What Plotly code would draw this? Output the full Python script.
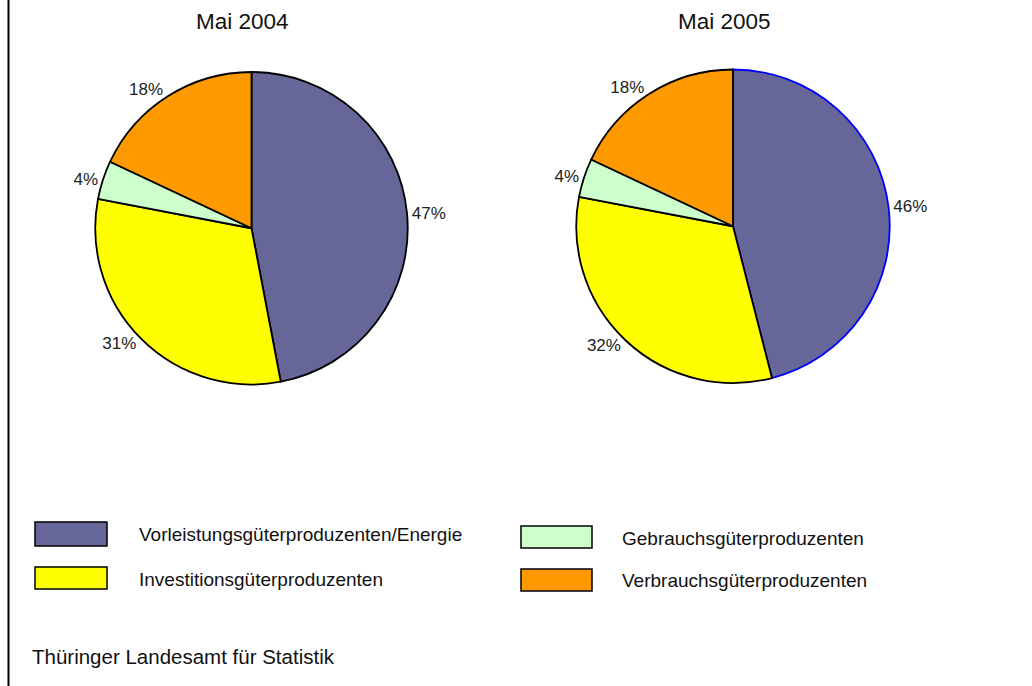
import plotly.graph_objects as go

# ---- data ----
categories = [
    "Vorleistungsgüterproduzenten/Energie",
    "Investitionsgüterproduzenten",
    "Gebrauchsgüterproduzenten",
    "Verbrauchsgüterproduzenten",
]
values_2004 = [47, 31, 4, 18]
values_2005 = [46, 32, 4, 18]
titles = ["Mai 2004", "Mai 2005"]
colors = ["#666699", "#FFFF00", "#CCFFCC", "#FF9900"]
source_text = "Thüringer Landesamt für Statistik"

W, H = 1032, 686
FONT = "Liberation Sans, Arial, sans-serif"


def px(x):
    return x / W


def py(y):
    return 1 - y / H


fig = go.Figure()

fig.add_trace(go.Pie(
    labels=categories, values=values_2004, sort=False, direction="clockwise",
    rotation=0, domain=dict(x=[px(95), px(408)], y=[py(384.5), py(72)]),
    marker=dict(colors=colors, line=dict(color="black", width=1.8)),
    texttemplate="%{value}%", textposition="outside",
    outsidetextfont=dict(family=FONT, size=17, color="#222222"),
    showlegend=False, hoverinfo="label+percent",
))

fig.add_trace(go.Pie(
    labels=categories, values=values_2005, sort=False, direction="clockwise",
    rotation=0, domain=dict(x=[px(576), px(890)], y=[py(383), py(69.5)]),
    marker=dict(colors=colors,
                line=dict(color=["#0000FF", "black", "black", "black"], width=1.8)),
    texttemplate="%{value}%", textposition="outside",
    outsidetextfont=dict(family=FONT, size=17, color="#222222"),
    showlegend=False, hoverinfo="label+percent",
))

annotations = []
shapes = []

# titles
for t, cx in zip(titles, [242.5, 724.5]):
    annotations.append(dict(text=t, x=px(cx), y=py(21), xref="paper", yref="paper",
                            showarrow=False, xanchor="center", yanchor="middle",
                            font=dict(family=FONT, size=22.5, color="#111111")))

# custom legend (2 columns, column-major order)
box_x = [(35, 107), (521, 592)]
box_y = [[(522, 546), (567, 589)], [(526, 548), (569, 591)]]
text_x = [137, 620]
text_y = [[534, 579], [538, 580]]
for i, (cat, col) in enumerate(zip(categories, colors)):
    c, r = i // 2, i % 2
    x0, x1 = box_x[c]
    y0, y1 = box_y[c][r]
    shapes.append(dict(type="rect", xref="paper", yref="paper",
                       x0=px(x0), x1=px(x1), y0=py(y1), y1=py(y0),
                       fillcolor=col, line=dict(color="black", width=1.5)))
    annotations.append(dict(text=cat, x=px(text_x[c]), y=py(text_y[c][r]),
                            xref="paper", yref="paper", showarrow=False,
                            xanchor="left", yanchor="middle",
                            font=dict(family=FONT, size=19, color="#111111")))

# source
annotations.append(dict(text=source_text, x=px(30), y=py(656), xref="paper", yref="paper",
                        showarrow=False, xanchor="left", yanchor="middle",
                        font=dict(family=FONT, size=20.5, color="#111111")))

# left frame line
shapes.append(dict(type="line", xref="paper", yref="paper", x0=px(8.5), x1=px(8.5),
                   y0=0, y1=1, line=dict(color="black", width=2)))

fig.update_layout(
    width=W, height=H, margin=dict(l=0, r=0, t=0, b=0),
    paper_bgcolor="white", plot_bgcolor="white",
    annotations=annotations, shapes=shapes, showlegend=False,
    font=dict(family=FONT),
)

fig.write_html(
    "out.html",
    config={"displayModeBar": False},
    post_script="document.body.style.margin='0';document.body.style.overflow='hidden';",
)
